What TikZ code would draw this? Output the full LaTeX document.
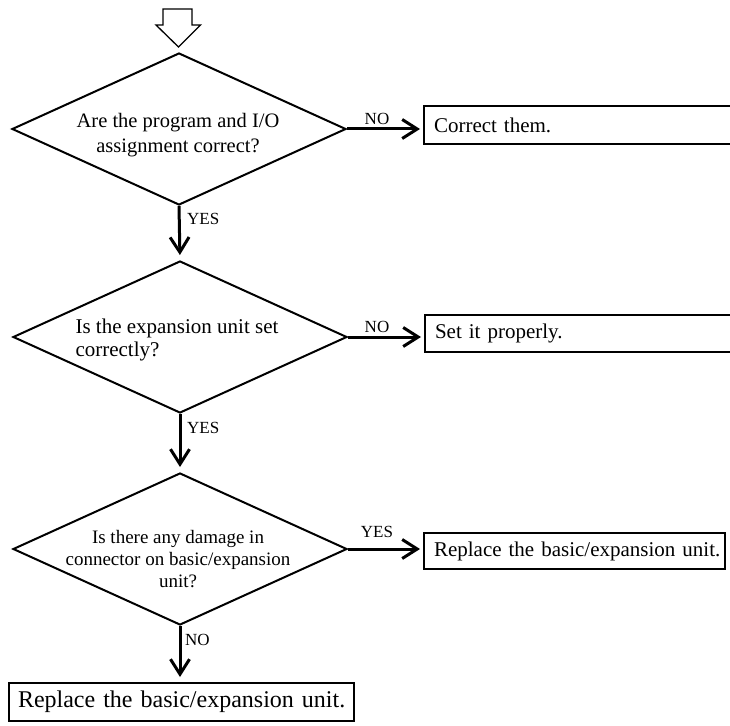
\documentclass[tikz,border=0pt]{standalone}
\usepackage{fontspec}
\setmainfont{Liberation Serif}
\usetikzlibrary{shapes.geometric,arrows.meta}
\begin{document}
\begin{tikzpicture}[x=1bp,y=-1bp,
  decision/.style={diamond,draw,line width=2bp,minimum width=334bp,minimum height=152bp,inner sep=0pt},
  question/.style={anchor=north,inner sep=0pt,align=center},
  actbox/.style={rectangle,draw,line width=2bp,anchor=west,inner ysep=0pt,inner xsep=10bp,
    text width=#1,align=left,font=\fontsize{21bp}{24bp}\selectfont},
  flow/.style={line width=3bp,-{Straight Barb[length=15bp,width=19bp]}},
  answer/.style={inner sep=0pt,font=\fontsize{17bp}{20bp}\selectfont},
  entry/.style={draw,line width=1.3bp,fill=white}
]
\useasboundingbox (0,0) rectangle (730,726);
\clip (0,0) rectangle (730,726);

% entry arrow
\draw[entry] (163,9) -- (192,9) -- (192,25) -- (200.5,25) -- (178.5,47) -- (156,25) -- (163,25) -- cycle;
\coordinate (start) at (178.5,47);

% decisions
\node[decision] (d1) at (179,129) {};
\node[question,font=\fontsize{20.5bp}{25.5bp}\selectfont] (q1) at (178,113)
  {Are the program and I/O\\assignment correct?};

\node[decision] (d2) at (180,337) {};
\node[question,align=left,font=\fontsize{21bp}{23.5bp}\selectfont] (q2) at (177,318.7)
  {Is the expansion unit set\\correctly?};

\node[decision] (d3) at (180,549) {};
\node[question,font=\fontsize{19bp}{22bp}\selectfont] (q3) at (178,530)
  {Is there any damage in\\connector on basic/expansion\\unit?};

% actions
\node[actbox=310bp,minimum height=38bp] (a1) at (423,125) {\mbox{Correct them.}};
\node[actbox=310bp,minimum height=37bp] (a2) at (424,333) {\mbox{Set it properly.}};
\node[actbox=281bp,minimum height=36bp] (a3) at (423,551) {\mbox{Replace the basic/expansion unit.}};
\node[actbox=327bp,inner xsep=9bp,minimum height=38bp,font=\fontsize{24bp}{28bp}\selectfont]
  (a4) at (8,702) {\mbox{Replace the basic/expansion unit.}};

% connectors
\draw[flow,shorten >=5bp] (d1.south) -- (d2.north);
\draw[flow,shorten >=5bp] (d2.south) -- (d3.north);
\draw[flow,shorten >=5bp] (d3.south) -- (a4.north -| d3.south);
\draw[flow,shorten >=3bp] (d1.east) -- (d1.east -| a1.west);
\draw[flow,shorten >=3bp] (d2.east) -- (d2.east -| a2.west);
\draw[flow,shorten >=3bp] (d3.east) -- (d3.east -| a3.west);

% answer labels
\node[answer,anchor=west] (y1) at (187,219) {YES};
\node[answer,anchor=west] (y2) at (187,428) {YES};
\node[answer,anchor=west] (n3) at (185,640) {NO};
\node[answer] (n1) at (377,119) {NO};
\node[answer] (n2) at (377,327) {NO};
\node[answer] (y3) at (377,532) {YES};
\end{tikzpicture}
\end{document}
